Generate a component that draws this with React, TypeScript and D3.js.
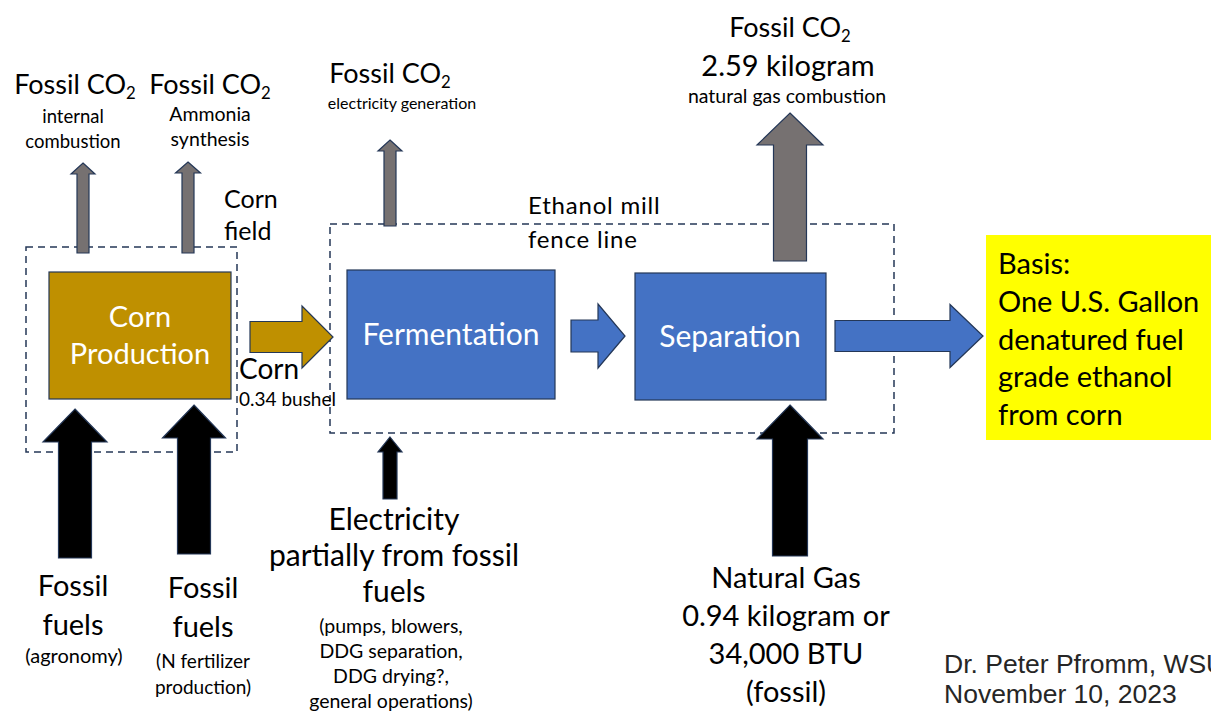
import React from 'react';
import * as d3 from 'd3';

// ---- diagram content ----
const co2Outputs = [
  { key: 'internal', lines: ['internal', 'combustion'], amount: '' },
  { key: 'ammonia', lines: ['Ammonia', 'synthesis'], amount: '' },
  { key: 'electric', lines: ['electricity generation'], amount: '' },
  { key: 'gas', lines: ['natural gas combustion'], amount: '2.59 kilogram' },
];

const processBoxes = ['Corn|Production', 'Fermentation', 'Separation'];

const fossilInputs = [
  { key: 'agronomy', title: ['Fossil', 'fuels'], notes: ['(agronomy)'] },
  { key: 'fertilizer', title: ['Fossil', 'fuels'], notes: ['(N fertilizer', 'production)'] },
];

const electricityTitle = ['Electricity', 'partially from fossil', 'fuels'];
const electricityNotes = ['(pumps, blowers,', 'DDG separation,', 'DDG drying?,', 'general operations)'];

const gasLines = ['Natural Gas', '0.94 kilogram or', '34,000 BTU', '(fossil)'];

const cornFlow = ['Corn', '0.34 bushel'];
const basisLines = ['Basis:', 'One U.S. Gallon', 'denatured fuel', 'grade ethanol', 'from corn'];
const fenceLabel = ['Ethanol mill', 'fence line'];
const fieldLabel = ['Corn', 'field'];
const credit = ['Dr. Peter Pfromm, WSU', 'November 10, 2023'];

// ---- styling ----
const FONT = 'Lato, "Open Sans", sans-serif';
const GREY = '#767171';
const BLUE = '#4472C4';
const GOLD = '#BF9000';
const EDGE = '#243757';

const line = d3.line<[number, number]>();

function upArrow(cx: number, tip: number, base: number, shaftW: number, headW: number, headH: number) {
  const pts: [number, number][] = [
    [cx, tip],
    [cx + headW / 2, tip + headH],
    [cx + shaftW / 2, tip + headH],
    [cx + shaftW / 2, base],
    [cx - shaftW / 2, base],
    [cx - shaftW / 2, tip + headH],
    [cx - headW / 2, tip + headH],
  ];
  return line(pts) + 'Z';
}

function rightArrow(x0: number, tip: number, cy: number, shaftH: number, headH: number, headW: number) {
  const pts: [number, number][] = [
    [tip, cy],
    [tip - headW, cy + headH / 2],
    [tip - headW, cy + shaftH / 2],
    [x0, cy + shaftH / 2],
    [x0, cy - shaftH / 2],
    [tip - headW, cy - shaftH / 2],
    [tip - headW, cy - headH / 2],
  ];
  return line(pts) + 'Z';
}

const CO2 = ({ x, y, size }: { x: number; y: number; size: number }) => (
  <text x={x} y={y} fontSize={size} textAnchor="middle" fontFamily={FONT} fill="#000">
    Fossil CO
    <tspan fontSize={size * 0.62} dy={size * 0.2}>2</tspan>
  </text>
);

const Lines = ({ x, y, size, gap, items, anchor = 'middle', fill = '#000', family = FONT, spacing = 0 }:
  { x: number; y: number; size: number; gap: number; items: string[]; anchor?: string; fill?: string; family?: string; spacing?: number }) => (
  <g>
    {items.map((t, i) => (
      <text key={i} x={x} y={y + i * gap} fontSize={size} textAnchor={anchor} fontFamily={family} fill={fill} letterSpacing={spacing}>
        {t}
      </text>
    ))}
  </g>
);

export default function App() {
  const W = 1211;
  const H = 713;
  const [cornTxt, fermTxt, sepTxt] = processBoxes;

  return (
    <svg width={W} height={H} style={{ position: 'absolute', left: 0, top: 0, background: '#fff' }}>
      {/* dashed boundaries */}
      <rect x={26} y={247} width={211} height={205} fill="none" stroke={EDGE} strokeWidth={1.5} strokeDasharray="7,5" />
      <rect x={330} y={224} width={564} height={209} fill="none" stroke={EDGE} strokeWidth={1.5} strokeDasharray="7,5" />

      {/* CO2 arrows */}
      <path d={upArrow(83, 163, 253, 12, 24, 11)} fill={GREY} stroke={EDGE} strokeWidth={1.2} />
      <path d={upArrow(188, 162, 253, 12, 25, 11)} fill={GREY} stroke={EDGE} strokeWidth={1.2} />
      <path d={upArrow(390, 140, 226, 12, 24, 11)} fill={GREY} stroke={EDGE} strokeWidth={1.2} />
      <path d={upArrow(790, 113, 261, 33, 66, 32)} fill={GREY} stroke={EDGE} strokeWidth={1.2} />

      {/* fossil inputs */}
      <path d={upArrow(75, 409, 558, 33, 64, 33)} fill="#000" stroke={EDGE} strokeWidth={1.2} />
      <path d={upArrow(194, 405, 554, 33, 63, 33)} fill="#000" stroke={EDGE} strokeWidth={1.2} />
      <path d={upArrow(390, 437, 499, 14, 24, 15)} fill="#000" stroke={EDGE} strokeWidth={1.2} />
      <path d={upArrow(790, 405, 556, 35, 66, 34)} fill="#000" stroke={EDGE} strokeWidth={1.2} />

      {/* process boxes */}
      <rect x={49} y={272} width={182} height={127} fill={GOLD} stroke={EDGE} strokeWidth={1.2} />
      <rect x={347} y={270} width={208} height={129} fill={BLUE} stroke={EDGE} strokeWidth={1.2} />
      <rect x={635} y={273} width={191} height={127} fill={BLUE} stroke={EDGE} strokeWidth={1.2} />
      <Lines x={140} y={327} size={29} gap={37} items={cornTxt.split('|')} fill="#fff" />
      <text x={451} y={345} fontSize={30} textAnchor="middle" fontFamily={FONT} fill="#fff">{fermTxt}</text>
      <text x={730} y={347} fontSize={30} textAnchor="middle" fontFamily={FONT} fill="#fff">{sepTxt}</text>

      {/* flow arrows */}
      <path d={rightArrow(250, 333, 337, 31, 62, 31)} fill={GOLD} stroke={EDGE} strokeWidth={1.2} />
      <path d={rightArrow(571, 625, 336, 32, 64, 27)} fill={BLUE} stroke={EDGE} strokeWidth={1.2} />
      <path d={rightArrow(835, 983, 336, 31, 63, 33)} fill={BLUE} stroke={EDGE} strokeWidth={1.2} />

      {/* basis box */}
      <rect x={986} y={235} width={230} height={205} fill="#FFFF00" />
      <Lines x={998} y={274} size={29} gap={37.8} items={basisLines} anchor="start" />

      {/* top labels */}
      <CO2 x={75} y={94} size={27} />
      <Lines x={73} y={123} size={18.5} gap={25} items={co2Outputs[0].lines} />
      <CO2 x={210} y={94} size={27} />
      <Lines x={210} y={121} size={19.5} gap={25} items={co2Outputs[1].lines} />
      <CO2 x={390} y={83} size={27} />
      <Lines x={402} y={109} size={16} gap={25} items={co2Outputs[2].lines} />
      <CO2 x={790} y={37} size={27} />
      <text x={788} y={76} fontSize={29} textAnchor="middle" fontFamily={FONT}>{co2Outputs[3].amount}</text>
      <Lines x={787} y={103} size={19.5} gap={25} items={co2Outputs[3].lines} />

      <Lines x={224} y={208} size={25} gap={32} items={fieldLabel} anchor="start" />
      <Lines x={528} y={214} size={24} gap={34} items={fenceLabel} anchor="start" spacing={0.8} />

      {/* corn flow label */}
      <text x={239} y={379} fontSize={28} fontFamily={FONT}>{cornFlow[0]}</text>
      <text x={239} y={406} fontSize={19} fontFamily={FONT}>{cornFlow[1]}</text>

      {/* bottom labels */}
      <Lines x={73} y={596} size={29} gap={39} items={fossilInputs[0].title} />
      <Lines x={74} y={663} size={20} gap={26} items={fossilInputs[0].notes} />
      <Lines x={203} y={598} size={29} gap={39} items={fossilInputs[1].title} />
      <Lines x={203} y={668} size={19} gap={26} items={fossilInputs[1].notes} />

      <Lines x={394} y={530} size={30} gap={36} items={electricityTitle} />
      <Lines x={391} y={633} size={19.5} gap={25} items={electricityNotes} />

      <Lines x={786} y={588} size={29} gap={38} items={gasLines} />

      <Lines x={944} y={673} size={26.5} gap={30} items={credit} anchor="start" fill="#262626" family='"Liberation Sans", Arial, sans-serif' />
    </svg>
  );
}
